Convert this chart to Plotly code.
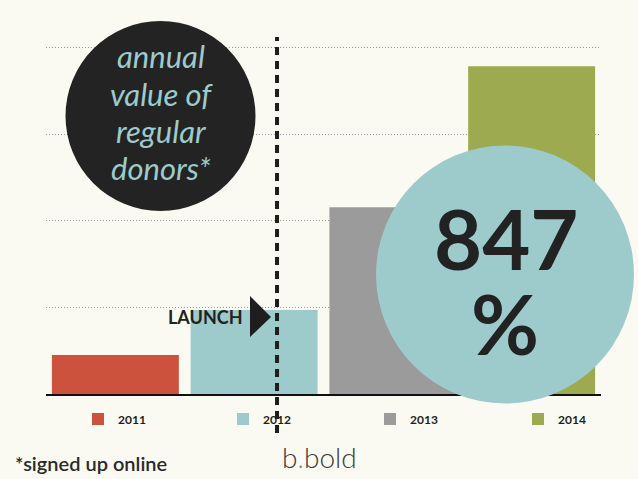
import plotly.graph_objects as go

# ---- data ----
years = ["2011", "2012", "2013", "2014"]
values = [0.45, 0.97, 2.16, 3.79]
bar_colors = ["#cc523e", "#9dcbcc", "#9b9b9b", "#9daa4f"]
launch_x = 1.165
circle_lines = ["annual", "value of", "regular", "donors*"]
big_number = "847"
big_unit = "%"

BG = "#fbfaf2"
W, H = 638, 479
L, R, T, B = 46, 601, 40, 394


def px(x):
    return (x - L) / (R - L)


def py(y):
    return (B - y) / (B - T)


legend_names = ["legend", "legend2", "legend3", "legend4"]
legend_sq_centers = [98, 243, 390, 538]

fig = go.Figure()
for yr, v, c, lg in zip(years, values, bar_colors, legend_names):
    fig.add_trace(go.Bar(x=[yr], y=[v], name=yr, marker=dict(color=c, line=dict(width=0)),
                         width=0.915, showlegend=True, legend=lg))

legend_common = dict(orientation="h", xanchor="left", y=py(419), yanchor="middle",
                     font=dict(family="Lato", size=12, color="#1e1e1e", weight=700),
                     bgcolor="rgba(0,0,0,0)", itemclick=False, itemdoubleclick=False)
legends = {}
for lg, cxp in zip(legend_names, legend_sq_centers):
    legends[lg] = dict(x=px(cxp - 20), **legend_common)

fig.update_layout(
    width=W, height=H,
    paper_bgcolor=BG, plot_bgcolor=BG,
    margin=dict(l=L, r=W - R, t=T, b=H - B),
    barmode="overlay",
    showlegend=True,
    xaxis=dict(type="category", categoryorder="array", categoryarray=years,
               range=[-0.5, 3.5], showticklabels=False, ticks="",
               showgrid=False, zeroline=False,
               showline=True, linecolor="#111111", linewidth=2),
    yaxis=dict(range=[0, 4.092], tickvals=[1, 2, 3, 4], showticklabels=False, ticks="",
               showgrid=True, gridcolor="#9a9a9a", gridwidth=1, griddash="1px,2px",
               zeroline=False, showline=False),
    **legends,
)

shapes = []
# dashed launch line
shapes.append(dict(type="line", xref="x", yref="paper", x0=launch_x, x1=launch_x,
                   y0=py(433), y1=py(37), line=dict(color="#1e1e1e", width=4, dash="8px,6px"),
                   layer="above"))
# triangle arrow
shapes.append(dict(type="path", xref="paper", yref="paper",
                   path=f"M {px(250)},{py(296)} L {px(271)},{py(317)} L {px(250)},{py(337)} Z",
                   fillcolor="#1e1e1e", line=dict(width=0), layer="above"))
# black circle
cx, cy, r = 160.5, 116, 95
shapes.append(dict(type="circle", xref="paper", yref="paper",
                   x0=px(cx - r), x1=px(cx + r), y0=py(cy + r), y1=py(cy - r),
                   fillcolor="#232323", line=dict(width=0), layer="above"))
# teal circle
tx, ty, tr = 505, 274.5, 129
shapes.append(dict(type="circle", xref="paper", yref="paper",
                   x0=px(tx - tr), x1=px(tx + tr), y0=py(ty + tr), y1=py(ty - tr),
                   fillcolor="#9dcbcc", line=dict(width=0), layer="above"))
fig.update_layout(shapes=shapes)

ann = []
line_centers = [56, 94, 131, 168]
for txt, yc in zip(circle_lines, line_centers):
    ann.append(dict(text=txt, xref="paper", yref="paper",
                    x=px(161), y=py(yc), xanchor="center", yanchor="middle", showarrow=False,
                    font=dict(family="Lato", size=31, color="#9dcbcc", style="italic", weight=400)))
ann.append(dict(text=big_number, xref="paper", yref="paper", x=px(506), y=py(238),
                xanchor="center", yanchor="middle", showarrow=False,
                font=dict(family="Lato", size=83, color="#222222", weight=700)))
ann.append(dict(text=big_unit, xref="paper", yref="paper", x=px(505), y=py(323),
                xanchor="center", yanchor="middle", showarrow=False,
                font=dict(family="Lato", size=83, color="#222222", weight=700)))
ann.append(dict(text="LAUNCH", xref="paper", yref="paper", x=px(245), y=py(317),
                xanchor="right", yanchor="middle", showarrow=False,
                font=dict(family="Lato", size=18, color="#222222", weight=700)))
ann.append(dict(text="*signed up online", xref="paper", yref="paper", x=px(13), y=py(463),
                xanchor="left", yanchor="middle", showarrow=False,
                font=dict(family="Lato", size=20, color="#2a2a2a", weight=600)))
ann.append(dict(text="b<span style='color:#d9695a'>.</span>bold", xref="paper", yref="paper",
                x=px(319), y=py(457), xanchor="center", yanchor="middle", showarrow=False,
                font=dict(family="Lato", size=28, color="#3a3a3a", weight=300)))
fig.update_layout(annotations=ann)

fig.write_html("out.html", config={"displayModeBar": False},
               post_script="document.body.style.margin='0';document.body.style.background='%s';" % BG)
